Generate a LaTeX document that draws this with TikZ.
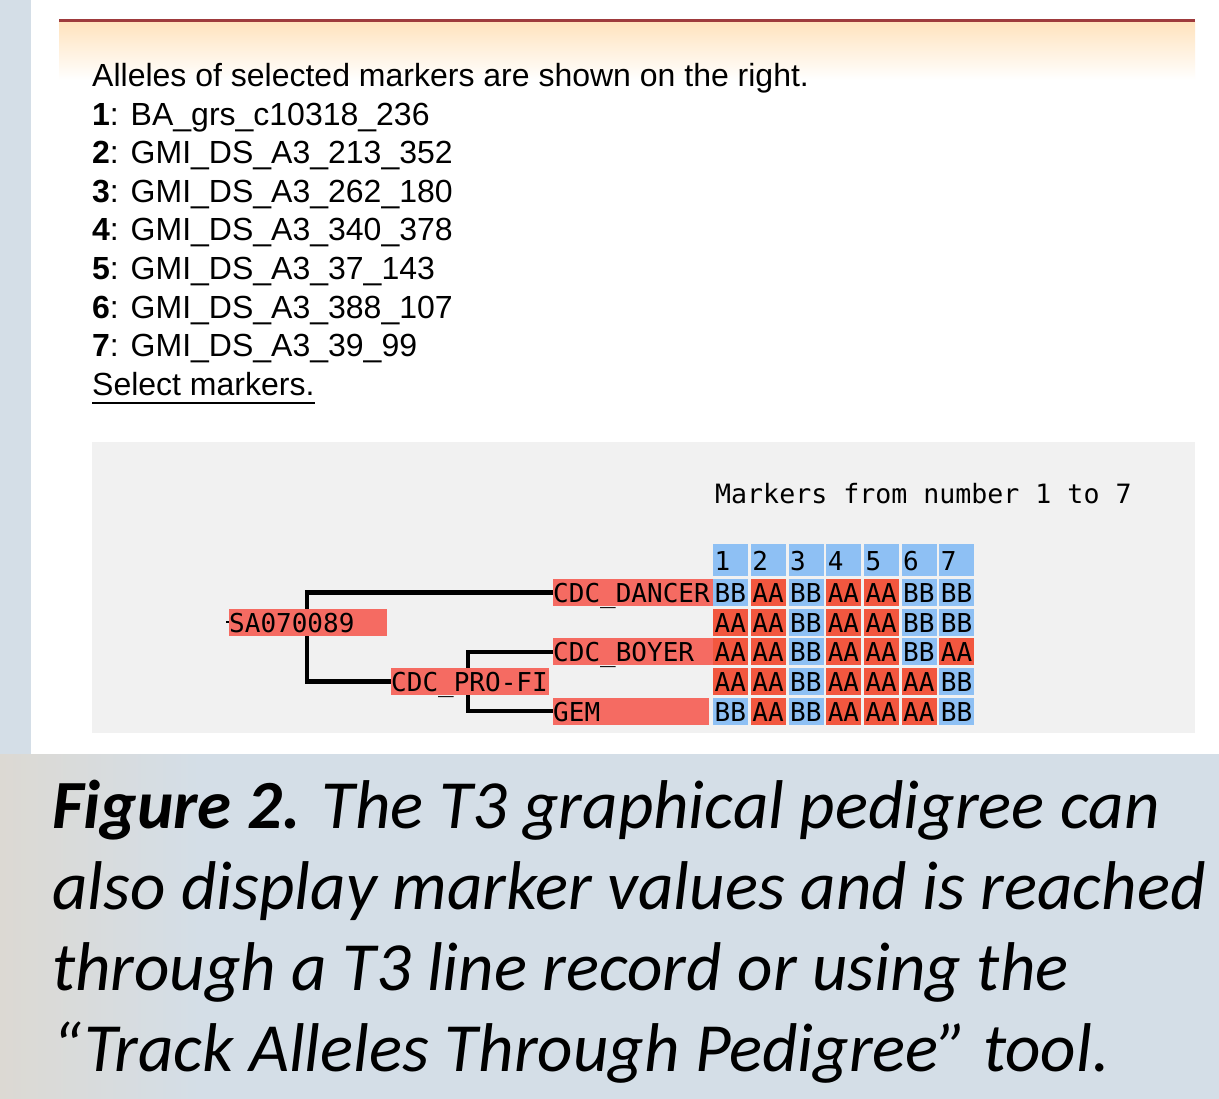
\documentclass[tikz,border=0pt]{standalone}
\usepackage{fontspec}
\setmainfont{Liberation Sans}
\newfontfamily\capfont{Carlito}
\newfontfamily\pixfont{DejaVu Sans Mono}

\definecolor{slate}{HTML}{D4DEE7}
\definecolor{sand}{HTML}{DCD9D3}
\definecolor{rulered}{HTML}{9E3A3C}
\definecolor{peach}{HTML}{FFE3BE}
\definecolor{panelgrey}{HTML}{F1F1F1}
\definecolor{namered}{HTML}{F56B62}
\definecolor{alleleA}{HTML}{F2573F}
\definecolor{alleleB}{HTML}{8EC0F4}

\pgfdeclarelayer{bg}
\pgfdeclarelayer{lines}
\pgfsetlayers{bg,lines,main}

\begin{document}
\begin{tikzpicture}[x=1pt, y=-1pt]

\tikzset{
  ListStyle/.style = {anchor=base west, inner sep=0pt,
                      font=\fontsize{32}{38}\selectfont},
  PixStyle/.style  = {font=\pixfont\fontsize{26}{27}\selectfont},
  NameStyle/.style = {PixStyle, anchor=north west, fill=namered,
                      inner sep=0pt, text width=#1, align=left,
                      minimum height=27pt, text height=20pt, text depth=0pt},
  CellStyle/.style = {PixStyle, anchor=north west, inner xsep=1.5pt,
                      inner ysep=0pt, text width=32pt, align=left,
                      minimum height=27pt, text height=20pt, text depth=0pt},
  HeadStyle/.style = {CellStyle, fill=alleleB, minimum height=32pt},
  cellA/.style     = {CellStyle, fill=alleleA},
  cellB/.style     = {CellStyle, fill=alleleB},
  TreeLine/.style  = {line width=4.5pt, black}
}

  \useasboundingbox (0,0) rectangle (1219,1099);

  % page, panels
  \begin{pgfonlayer}{bg}
    \fill[slate] (0,0) rectangle (1219,1099);
    \shade[left color=sand, right color=slate] (0,754) rectangle (200,1099);
    \fill[white] (31,0) rectangle (1219,754);
    \shade[top color=peach, bottom color=white] (59,22) rectangle (1195,80);
    \draw[rulered, line width=3pt] (59,20.5) -- (1195,20.5);
    \fill[panelgrey] (92,442) rectangle (1195,733);
  \end{pgfonlayer}

  % marker list
  \node[ListStyle] (intro) at (92,86.5)
    {Alleles of selected markers are shown on the right.};
  \foreach \n/\mk in {1/BA\_grs\_c10318\_236, 2/GMI\_DS\_A3\_213\_352,
                      3/GMI\_DS\_A3\_262\_180, 4/GMI\_DS\_A3\_340\_378,
                      5/GMI\_DS\_A3\_37\_143, 6/GMI\_DS\_A3\_388\_107,
                      7/GMI\_DS\_A3\_39\_99}
    \node[ListStyle] (mk\n) at (92,{86.5+\n*38.6}) {\textbf{\n}: \mk};
  \node[ListStyle] (select) at (92,{86.5+8*38.6}) {Select markers.};
  \draw[line width=2pt] ([yshift=-7.5pt]select.base west)
    -- ([yshift=-7.5pt]select.base east);

  % marker grid
  \node[PixStyle, font=\pixfont\fontsize{26.6}{27}\selectfont,
        anchor=base west, inner sep=0pt] (title) at (715,503)
    {Markers from number 1 to 7};
  \foreach \c in {1,...,7}
    \node[HeadStyle] (h\c) at ({713+(\c-1)*37.7},544) {\c};
  \foreach \r/\vals in {1/{B,A,B,A,A,B,B}, 2/{A,A,B,A,A,B,B},
                        3/{A,A,B,A,A,B,A}, 4/{A,A,B,A,A,A,B},
                        5/{B,A,B,A,A,A,B}}
    \foreach \v [count=\c] in \vals
      \node[cell\v] (c\r-\c) at ({713+(\c-1)*37.7},{579+(\r-1)*29.6}) {\v\v};

  % pedigree
  \node[NameStyle=160pt] (dancer) at (553,579)   {CDC\_DANCER};
  \node[NameStyle=158pt] (sa)     at (229,608.6) {SA070089};
  \node[NameStyle=160pt] (boyer)  at (553,638.2) {CDC\_BOYER};
  \node[NameStyle=158pt] (profi)  at (391,667.8) {CDC\_PRO-FI};
  \node[NameStyle=156pt] (gem)    at (553,697.4) {GEM};

  \coordinate (sa-split) at ([xshift=78pt]sa.west);
  \coordinate (pf-split) at ([xshift=77pt]profi.west);

  \begin{pgfonlayer}{lines}
    \draw[TreeLine] (dancer.west) -| (sa-split) |- (profi.west);
    \draw[TreeLine] (boyer.west) -| (pf-split) |- (gem.west);
    \draw[line width=2pt] (sa.west) -- ++(-3,0);
  \end{pgfonlayer}

  % caption
  \node[anchor=base west, inner sep=0pt, align=left,
        font=\capfont\itshape\fontsize{69}{81}\selectfont] (caption) at (52,1071)
    {\textbf{Figure 2.} The T3 graphical pedigree can\\
     also display marker values and is reached\\
     through a T3 line record or using the\\
     “Track Alleles Through Pedigree” tool.};

\end{tikzpicture}
\end{document}
